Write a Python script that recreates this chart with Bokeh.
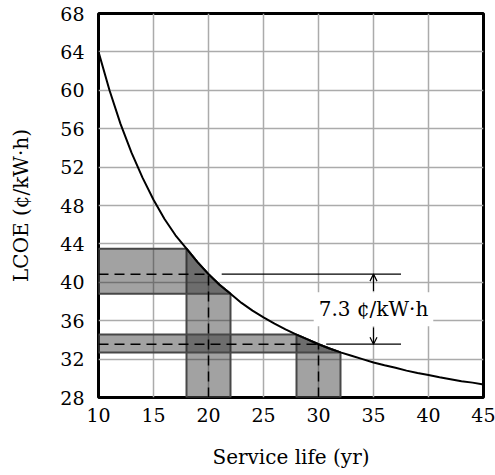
import numpy as np
from bokeh.plotting import figure
from bokeh.models import Range1d, FixedTicker, Label, Arrow, OpenHead
from bokeh.embed import file_html
from bokeh.resources import INLINE

# Levelized cost of energy against service life
service_life = [10, 11, 12, 13, 14, 15, 16, 17, 18, 19, 20, 21, 22, 23, 24, 25, 26, 27,
                28, 29, 30, 31, 32, 33, 34, 35, 36, 37, 38, 39, 40, 41, 42, 43, 44, 45]
lcoe = [64.0, 60.0, 56.5, 53.5, 50.9, 48.6, 46.6, 44.9, 43.5, 42.1, 40.85, 39.75,
        38.8, 37.85, 37.05, 36.35, 35.7, 35.1, 34.55, 34.05, 33.55, 33.1, 32.7, 32.35,
        32.0, 31.65, 31.35, 31.1, 30.8, 30.55, 30.35, 30.1, 29.9, 29.7, 29.55, 29.35]

# Two design lives and the +/- 2 yr uncertainty windows around them
design_lives = [20, 30]
life_windows = [(18, 22), (28, 32)]

x_ticks = [10, 15, 20, 25, 30, 35, 40, 45]
y_ticks = [28, 32, 36, 40, 44, 48, 52, 56, 60, 64, 68]

X0, X1 = 10, 45
Y0, Y1 = 28, 68
FONT = "DejaVu Serif"
TICK_FONT_SIZE = "19px"
TITLE_FONT_SIZE = "20px"

life = np.array(service_life, dtype=float)
cost = np.array(lcoe, dtype=float)


def cost_at(n):
    return float(np.interp(n, life, cost))


def curve_between(a, b):
    inner = life[(life > a) & (life < b)]
    xs = np.concatenate([[a], inner, [b]])
    return xs, np.interp(xs, life, cost)


p = figure(width=495, height=475, x_range=Range1d(X0, X1), y_range=Range1d(Y0, Y1),
           output_backend="svg", toolbar_location=None,
           min_border_left=98, min_border_right=12, min_border_top=13, min_border_bottom=78)
p.title.visible = False
p.background_fill_color = "white"
p.border_fill_color = "white"
p.outline_line_color = "black"
p.outline_line_width = 3

for ax, ticks in ((p.xaxis[0], x_ticks), (p.yaxis[0], y_ticks)):
    ax.ticker = FixedTicker(ticks=ticks)
    ax.axis_line_color = None
    ax.major_tick_line_color = None
    ax.minor_tick_line_color = None
    ax.major_tick_out = 0
    ax.major_label_text_font = FONT
    ax.major_label_text_font_size = TICK_FONT_SIZE
    ax.major_label_text_color = "black"
    ax.axis_label_text_font = FONT
    ax.axis_label_text_font_size = TITLE_FONT_SIZE
    ax.axis_label_text_font_style = "normal"
    ax.axis_label_text_color = "black"

p.xaxis.major_label_standoff = 10
p.yaxis.major_label_standoff = 14
p.xaxis.axis_label = "Service life (yr)"
p.yaxis.axis_label = "LCOE (¢/kW·h)"
p.xaxis.axis_label_standoff = 20
p.yaxis.axis_label_standoff = 24

p.grid.grid_line_color = "#ababab"
p.grid.grid_line_width = 1.5

# Shaded uncertainty bands: vertical (life window) and horizontal (resulting LCOE range)
band_xs, band_ys = [], []
for a, b in life_windows:
    xs, ys = curve_between(a, b)
    cx, cy = list(xs[::-1]), list(ys[::-1])
    band_xs.append([a, b] + cx)
    band_ys.append([Y0, Y0] + cy)
    band_xs.append([X0] + cx + [X0])
    band_ys.append([ys[-1]] + cy + [ys[0]])

p.patches(band_xs, band_ys, fill_color="#282828", fill_alpha=0.43,
          line_color="#474747", line_width=2)

# Dashed guides from the design lives to the curve and the LCOE axis
guide_xs, guide_ys = [], []
for d in design_lives:
    c = cost_at(d)
    guide_xs += [[X0, d], [d, d]]
    guide_ys += [[c, c], [Y0, c]]
p.multi_line(guide_xs, guide_ys, line_color="black", line_width=1.5, line_dash="10 6")

p.line(service_life, lcoe, line_color="black", line_width=2)

# Difference between the two design lives
c_hi, c_lo = cost_at(design_lives[0]), cost_at(design_lives[1])
ref_start = [21.2, 30.7]
ref_end = 37.5
p.multi_line([[ref_start[0], ref_end], [ref_start[1], ref_end]],
             [[c_hi, c_hi], [c_lo, c_lo]], line_color="black", line_width=1.2)

mark_x = 35
mid = (c_hi + c_lo) / 2
p.add_layout(Arrow(end=OpenHead(size=7, line_width=1.2), x_start=mark_x, y_start=mid + 1.9,
                   x_end=mark_x, y_end=c_hi, line_width=1.2))
p.add_layout(Arrow(end=OpenHead(size=7, line_width=1.2), x_start=mark_x, y_start=mid - 1.9,
                   x_end=mark_x, y_end=c_lo, line_width=1.2))
p.add_layout(Label(x=mark_x, y=mid, text=f"{c_hi - c_lo:.1f} ¢/kW·h",
                   text_align="center", text_baseline="middle",
                   text_font=FONT, text_font_size=TITLE_FONT_SIZE, text_color="black",
                   background_fill_color="white", padding=5))

open("out.html", "w").write(file_html(p, INLINE))
